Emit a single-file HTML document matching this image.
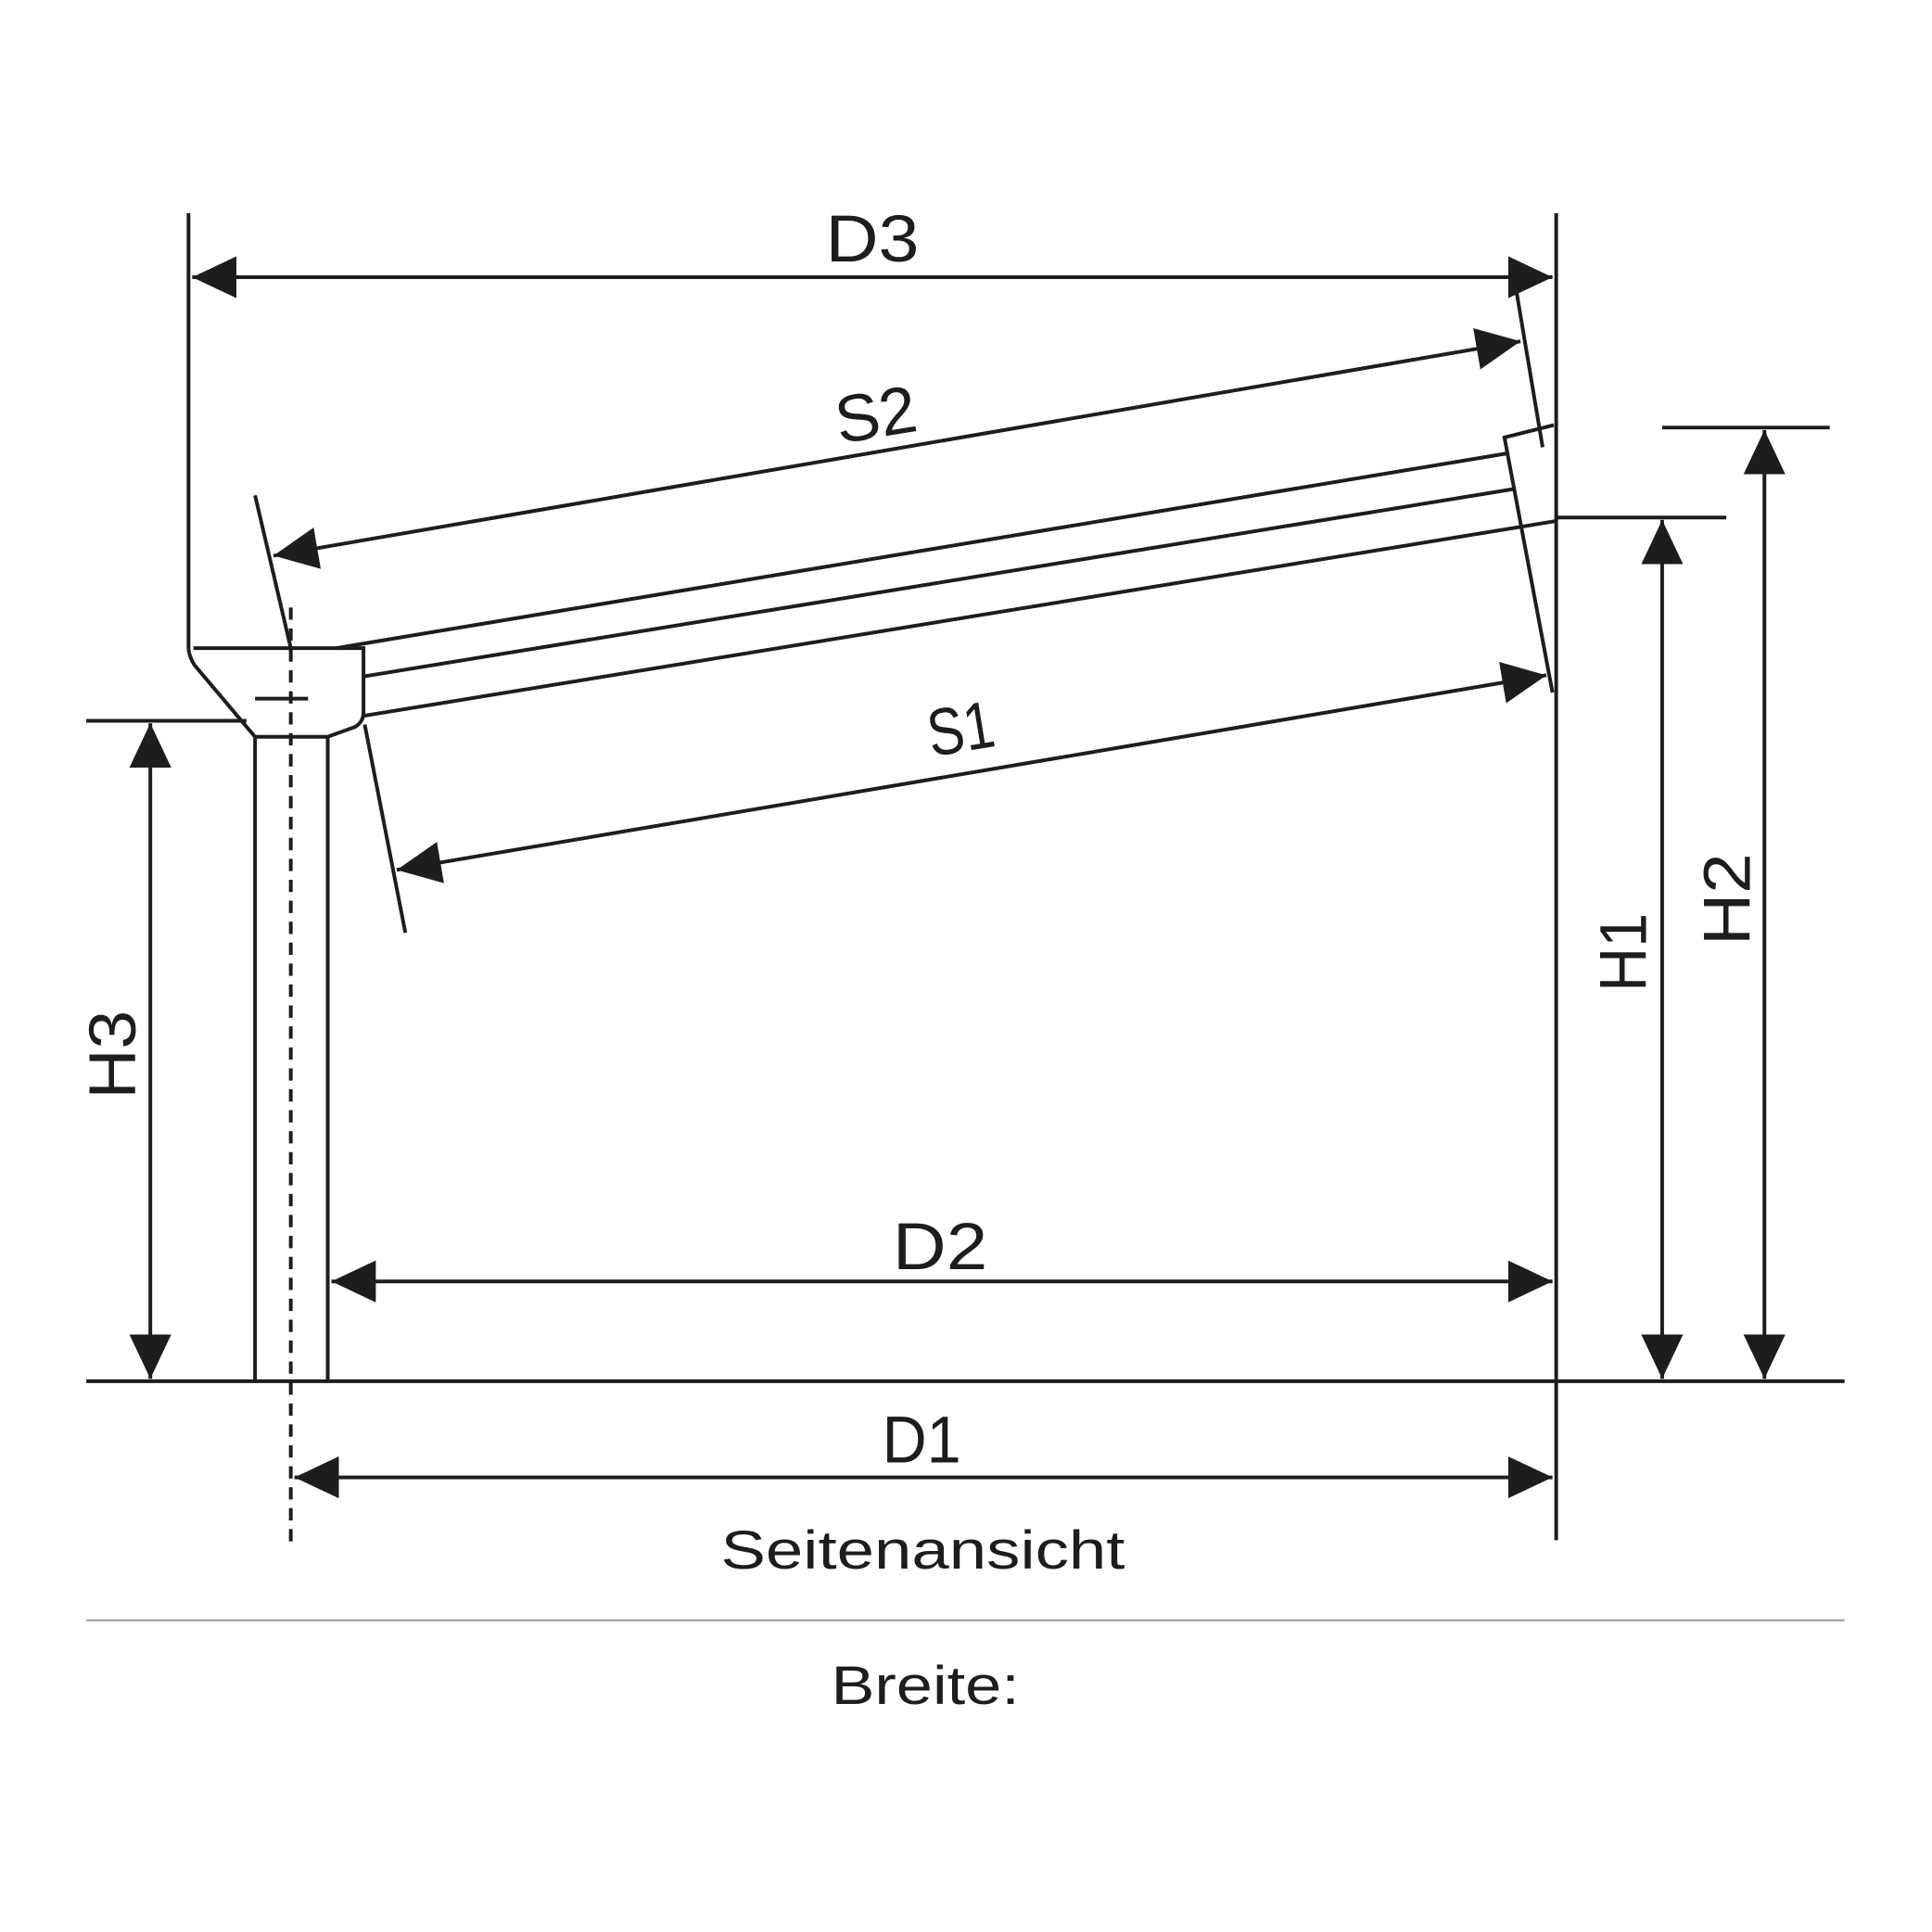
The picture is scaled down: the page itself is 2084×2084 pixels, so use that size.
<!DOCTYPE html>
<html><head><meta charset="utf-8"><style>html,body{margin:0;padding:0;background:#fff}svg{display:block}</style></head>
<body>
<svg width="2084" height="2084" viewBox="0 0 1568 1568" xmlns="http://www.w3.org/2000/svg">
<defs>
<marker id="a" markerUnits="userSpaceOnUse" viewBox="0 0 36 34" refX="36" refY="17" markerWidth="36" markerHeight="34" orient="auto-start-reverse">
<path d="M0,0 L36,17 L0,34 Z" fill="#1d1d1b"/>
</marker>
</defs>
<g stroke="#1d1d1b" stroke-width="3" fill="none">
<line x1="153" y1="173" x2="153" y2="527"/>
<line x1="1263" y1="173" x2="1263" y2="1250"/>
<line x1="70" y1="1121" x2="1497" y2="1121"/>
<line x1="70" y1="585" x2="200" y2="585"/>
<line x1="1263" y1="420" x2="1401" y2="420"/>
<line x1="1349" y1="347" x2="1485" y2="347"/>
<path d="M153,527 Q154,534 158,540 L207,598 L266,598 L288,590 Q295,586 295,578 L295,526 L157,526"/>
<line x1="207" y1="598" x2="207" y2="1121"/>
<line x1="266" y1="598" x2="266" y2="1121"/>
<line x1="207" y1="567" x2="250" y2="567"/>
<line x1="236" y1="493" x2="236" y2="1255" stroke-dasharray="10,7"/>
<line x1="273" y1="526" x2="1223" y2="368"/>
<line x1="295" y1="549" x2="1228" y2="397"/>
<line x1="295" y1="581" x2="1262" y2="423"/>
<polyline points="1261,345 1221,355 1260,562"/>
<line x1="207" y1="402" x2="236" y2="526"/>
<line x1="1231" y1="238" x2="1252" y2="363"/>
<line x1="296" y1="588" x2="329" y2="757"/>
<line x1="156" y1="225" x2="1260" y2="225" marker-start="url(#a)" marker-end="url(#a)"/>
<line x1="222" y1="451" x2="1234" y2="277" marker-start="url(#a)" marker-end="url(#a)"/>
<line x1="322" y1="706" x2="1255" y2="548" marker-start="url(#a)" marker-end="url(#a)"/>
<line x1="269" y1="1040" x2="1260" y2="1040" marker-start="url(#a)" marker-end="url(#a)"/>
<line x1="239" y1="1199" x2="1260" y2="1199" marker-start="url(#a)" marker-end="url(#a)"/>
<line x1="122" y1="587" x2="122" y2="1119" marker-start="url(#a)" marker-end="url(#a)"/>
<line x1="1349" y1="422" x2="1349" y2="1119" marker-start="url(#a)" marker-end="url(#a)"/>
<line x1="1432" y1="349" x2="1432" y2="1119" marker-start="url(#a)" marker-end="url(#a)"/>
</g>
<line x1="70" y1="1315" x2="1497" y2="1315" stroke="#9a9a9a" stroke-width="1.5"/>
<g fill="#1d1d1b" font-family="'Liberation Sans', sans-serif" font-size="54" text-anchor="middle" lengthAdjust="spacingAndGlyphs">
<text x="708" y="212" textLength="76" lengthAdjust="spacingAndGlyphs">D3</text>
<text x="711" y="355" transform="rotate(-9.3 711 338)" textLength="66" lengthAdjust="spacingAndGlyphs">S2</text>
<text x="780" y="610" transform="rotate(-9.3 780 593)" textLength="54" lengthAdjust="spacingAndGlyphs">S1</text>
<text x="763" y="1030" textLength="77" lengthAdjust="spacingAndGlyphs">D2</text>
<text x="748" y="1187" textLength="64" lengthAdjust="spacingAndGlyphs">D1</text>
<text x="0" y="0" transform="translate(110 856) rotate(-90)" textLength="72" lengthAdjust="spacingAndGlyphs">H3</text>
<text x="0" y="0" transform="translate(1336 773) rotate(-90)" textLength="64" lengthAdjust="spacingAndGlyphs">H1</text>
<text x="0" y="0" transform="translate(1420 730) rotate(-90)" textLength="75" lengthAdjust="spacingAndGlyphs">H2</text>
<text x="749" y="1273" font-size="44" textLength="328" lengthAdjust="spacingAndGlyphs">Seitenansicht</text>
<text x="751" y="1383" font-size="44" textLength="153" lengthAdjust="spacingAndGlyphs">Breite:</text>
</g>
</svg>
</body></html>
